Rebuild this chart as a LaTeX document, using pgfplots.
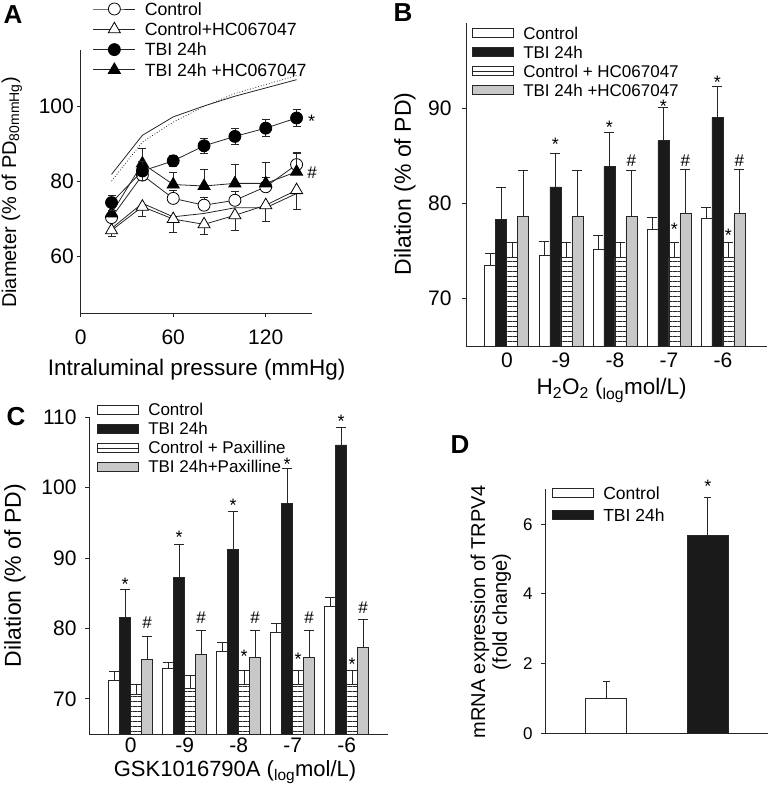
\documentclass[border=0pt]{standalone}
\usepackage{fontspec}
\setmainfont{Liberation Sans}
\usepackage{pgfplots}
\pgfplotsset{compat=1.18}
\usetikzlibrary{patterns.meta}

\newcommand{\fsz}[1]{\fontsize{#1bp}{#1bp}\selectfont}
\definecolor{ink}{HTML}{262626}
\definecolor{barblack}{HTML}{1A1A1A}
\definecolor{bargray}{HTML}{C8C8C8}
% legend boxes for the bar panels (box 41bp, text starts 51bp from its left)
\newcommand{\lbox}[1]{\draw[#1,draw=ink,line width=0.7bp] (0bp,-4.5bp) rectangle (41bp,4.5bp); \path (51bp,0bp);}

\pgfplotsset{
  panel/.style={
    scale only axis, anchor=south west,
    axis lines=left, axis line style={-, ink, line width=0.8bp},
    tick align=outside, major tick length=4bp, tick style={ink, line width=0.8bp},
    /pgf/number format/assume math mode=true,
    clip mode=individual, legend cell align=left,
  },
  barleg/.style={legend style={draw=none, fill=none, inner sep=0pt, outer sep=0pt,
    row sep=0pt, column sep=0pt, anchor=north west, font=\fsz{17},
    nodes={inner sep=0pt, text height=15.6bp, text depth=3.4bp}}},
  ctl/.style={fill=white, draw=ink, line width=0.7bp},
  tbi/.style={fill=barblack, draw=ink, line width=0.7bp},
  stp/.style={fill=white, draw=ink, line width=0.7bp,
    postaction={pattern color=ink, pattern={Lines[angle=0,distance=5bp,line width=0.6bp]}}},
  gry/.style={fill=bargray, draw=ink, line width=0.7bp},
  errb/.style={/pgfplots/error bars/y dir=plus, /pgfplots/error bars/y explicit,
    /pgfplots/error bars/error bar style={line width=0.8bp, ink},
    /pgfplots/error bars/error mark options={rotate=90, mark size=5bp, line width=0.8bp, ink}},
  errA/.style={/pgfplots/error bars/y dir=#1, /pgfplots/error bars/y explicit,
    /pgfplots/error bars/error bar style={line width=0.8bp, ink},
    /pgfplots/error bars/error mark options={rotate=90, mark size=4bp, line width=0.8bp, ink}},
  lineA/.style={ink, line width=0.8bp},
}
\tikzset{
  ast/.style={font=\fsz{18}, inner sep=0pt, anchor=center, yshift=-3.5bp},
  hsh/.style={font=\fsz{17}, inner sep=0pt, anchor=center},
}

\begin{document}
\begin{tikzpicture}
\useasboundingbox (0,0) rectangle (771bp,-791bp);

%% ---------- A ----------
\begin{axis}[panel, at={(80.7bp,-313bp)}, width=231.3bp, height=263bp,
  xmin=0, xmax=150, ymin=45, ymax=115, xtick={0,60,120}, ytick={60,80,100},
  xticklabel style={font=\fsz{21}, inner sep=0pt, anchor=north, yshift=-12.5bp},
  yticklabel style={font=\fsz{21}, inner sep=0pt, anchor=east, xshift=-2.7bp},
  xlabel={Intraluminal pressure (mmHg)},
  ylabel={Diameter (\% of PD\textsubscript{80mmHg})},
  xlabel style={font=\fsz{22.5}, at={(axis description cs:0.5015,-0.2376)}, anchor=base},
  ylabel style={font=\fsz{20}, at={(axis description cs:-0.298,0.458)}, anchor=center},
  legend image code/.code={\draw[mark repeat=2,mark phase=2,#1] plot coordinates {(0bp,0bp) (21bp,0bp) (42bp,0bp)}; \path (51bp,0bp);},
  legend style={draw=none, fill=none, inner sep=0pt, outer sep=0pt, row sep=0pt, column sep=0pt,
    at={(axis description cs:0.053,1.1945)}, anchor=north west, font=\fsz{17.7},
    nodes={inner sep=0pt, text height=16.5bp, text depth=3.8bp}},
]
\addlegendimage{lineA, mark=*, mark size=6bp, mark options={draw=black, fill=white, line width=0.8bp}}
\addlegendentry{Control}
\addlegendimage{lineA, mark=triangle*, mark size=7bp, mark options={draw=black, fill=white, line width=0.8bp}}
\addlegendentry{Control+HC067047}
\addlegendimage{lineA, mark=*, mark size=6bp, mark options={draw=black, fill=black}}
\addlegendentry{TBI 24h}
\addlegendimage{lineA, mark=triangle*, mark size=7bp, mark options={draw=black, fill=black}}
\addlegendentry{TBI 24h +HC067047}

% reference curves
\addplot[lineA, forget plot] coordinates {(20,81.9) (40,92.3) (60,97.2) (80,100.1) (100,102.7) (120,104.9) (140,107.1)};
\addplot[lineA, dotted, forget plot] coordinates {(20,80.1) (40,90.5) (60,95.8) (80,100) (100,103.4) (120,105.8) (140,108.2)};
\addplot[lineA, forget plot] coordinates {(20,67.5) (40,74.2) (60,70.6) (80,71.5) (100,73) (120,73) (140,76.8)};

% Control+HC067047
\addplot[lineA, mark=triangle*, mark size=7bp, mark options={draw=black, fill=white, line width=0.8bp}, forget plot, errA=minus]
  coordinates {(20,67) +- (0,1.5) (40,73.3) +- (0,2.7) (60,70) +- (0,3.6) (80,68.6) +- (0,2.7)
               (100,71) +- (0,4) (120,73.7) +- (0,4.2) (140,77.7) +- (0,5)};
% Control
\addplot[lineA, mark=*, mark size=6bp, mark options={draw=black, fill=white, line width=0.8bp}, forget plot, errA=plus]
  coordinates {(20,70.4) +- (0,1.5) (40,81.7) +- (0,2) (60,75.5) +- (0,2.2) (80,73.7) +- (0,2)
               (100,75) +- (0,2.3) (120,78.6) +- (0,2.5) (140,84.5) +- (0,3.1)};
% TBI 24h +HC067047
\addplot[lineA, mark=triangle*, mark size=7bp, mark options={draw=black, fill=black}, forget plot, errA=plus]
  coordinates {(20,71.5) +- (0,2) (40,84.8) +- (0,4) (60,79.2) +- (0,3.2) (80,78.8) +- (0,4.5)
               (100,79.5) +- (0,5.1) (120,79.5) +- (0,5.7) (140,82.6) +- (0,5.1)};
% TBI 24h
\addplot[lineA, mark=*, mark size=6bp, mark options={draw=black, fill=black}, forget plot, errA=both]
  coordinates {(20,74.4) +- (0,2) (40,82.8) +- (0,2.5) (60,85.5) +- (0,1.5) (80,89.5) +- (0,1.9)
               (100,92) +- (0,2.2) (120,94.2) +- (0,2.3) (140,96.9) +- (0,2.3)};

\node[ast] at (axis cs:149.8,96.9) {*};
\node[hsh] at (axis cs:150,82.3) {\#};
\end{axis}

%% ---------- B ----------
\begin{axis}[panel, barleg, ybar, bar width=11bp, at={(466bp,-346bp)}, width=300.7bp, height=322.7bp,
  xmin=-0.756, xmax=4.81, ymin=65, ymax=99,
  xtick={0,1,2,3,4}, xticklabels={0,-9,-8,-7,-6}, ytick={70,80,90},
  major x tick style={draw=none},
  xticklabel style={font=\fsz{21}, inner sep=0pt, anchor=north, yshift=-2.5bp},
  yticklabel style={font=\fsz{21}, inner sep=0pt, anchor=east, xshift=-10.3bp},
  xlabel={H\textsubscript{2}O\textsubscript{2} (\textsubscript{log}mol/L)},
  ylabel={Dilation (\% of PD)},
  xlabel style={font=\fsz{22.5}, at={(axis description cs:0.4845,-0.1518)}, anchor=base},
  ylabel style={font=\fsz{23}, at={(axis description cs:-0.203,0.502)}, anchor=center},
  legend style={at={(axis description cs:0.019,0.9985)}},
]
\addlegendimage{legend image code/.code={\lbox{fill=white}}}
\addlegendentry{Control}
\addlegendimage{legend image code/.code={\lbox{fill=barblack}}}
\addlegendentry{TBI 24h}
\addlegendimage{legend image code/.code={\lbox{fill=white}\draw[ink,line width=0.6bp] (0bp,0bp) -- (41bp,0bp);}}
\addlegendentry{Control + HC067047}
\addlegendimage{legend image code/.code={\lbox{fill=bargray}}}
\addlegendentry{TBI 24h +HC067047}

\addplot[ctl, bar shift=-16.5bp, forget plot, errb] coordinates
  {(0,73.45) +- (0,1.27) (1,74.5) +- (0,1.55) (2,75.2) +- (0,1.5) (3,77.3) +- (0,1.25) (4,78.5) +- (0,1.15)};
\addplot[tbi, bar shift=-5.5bp, forget plot, errb] coordinates
  {(0,78.3) +- (0,3.4) (1,81.76) +- (0,3.54) (2,83.9) +- (0,3.6) (3,86.65) +- (0,3.45) (4,89.05) +- (0,3.35)};
\addplot[stp, bar shift=5.5bp, forget plot, errb] coordinates
  {(0,74.3) +- (0,1.6) (1,74.3) +- (0,1.6) (2,74.3) +- (0,1.6) (3,74.3) +- (0,1.6) (4,74.3) +- (0,1.6)};
\addplot[gry, bar shift=16.5bp, forget plot, errb] coordinates
  {(0,78.66) +- (0,4.84) (1,78.66) +- (0,4.84) (2,78.66) +- (0,4.84) (3,78.94) +- (0,4.66) (4,78.94) +- (0,4.66)};

\node[ast, xshift=-5.5bp] at (axis cs:1,86.58) {*};
\node[ast, xshift=-5.5bp] at (axis cs:2,88.45) {*};
\node[ast, xshift=-5.5bp] at (axis cs:3,90.63) {*};
\node[ast, xshift=-5.5bp] at (axis cs:4,93.2) {*};
\node[hsh, xshift=16.5bp] at (axis cs:2,84.54) {\#};
\node[hsh, xshift=16.5bp] at (axis cs:3,84.54) {\#};
\node[hsh, xshift=16.5bp] at (axis cs:4,84.54) {\#};
\node[ast, xshift=5.5bp] at (axis cs:3,77.68) {*};
\node[ast, xshift=5.5bp] at (axis cs:4,77.08) {*};
\end{axis}

%% ---------- C ----------
\begin{axis}[panel, barleg, ybar, bar width=11bp, at={(89.3bp,-734bp)}, width=298.7bp, height=316.7bp,
  xmin=-0.767, xmax=4.765, ymin=65, ymax=110,
  xtick={0,1,2,3,4}, xticklabels={0,-9,-8,-7,-6}, ytick={70,80,90,100,110},
  major x tick style={draw=none},
  xticklabel style={font=\fsz{21}, inner sep=0pt, anchor=north, yshift=0bp},
  yticklabel style={font=\fsz{21}, inner sep=0pt, anchor=east, xshift=-8.6bp},
  xlabel={GSK1016790A (\textsubscript{log}mol/L)},
  ylabel={Dilation (\% of PD)},
  xlabel style={font=\fsz{22}, inner sep=0pt, at={(axis description cs:0.488,-0.1326)}, anchor=base},
  ylabel style={font=\fsz{23}, at={(axis description cs:-0.249,0.5)}, anchor=center},
  legend style={at={(axis description cs:0.0248,1.0534)}},
]
\addlegendimage{legend image code/.code={\lbox{fill=white}}}
\addlegendentry{Control}
\addlegendimage{legend image code/.code={\lbox{fill=barblack}}}
\addlegendentry{TBI 24h}
\addlegendimage{legend image code/.code={\lbox{fill=white}\draw[ink,line width=0.6bp] (0bp,0bp) -- (41bp,0bp);}}
\addlegendentry{Control + Paxilline}
\addlegendimage{legend image code/.code={\lbox{fill=bargray}}}
\addlegendentry{TBI 24h+Paxilline}

\addplot[ctl, bar shift=-16.5bp, forget plot, errb] coordinates
  {(0,72.6) +- (0,1.3) (1,74.4) +- (0,0.8) (2,76.8) +- (0,1.2) (3,79.47) +- (0,1.28) (4,83.1) +- (0,1.3)};
\addplot[tbi, bar shift=-5.5bp, forget plot, errb] coordinates
  {(0,81.6) +- (0,4.0) (1,87.2) +- (0,4.8) (2,91.2) +- (0,5.4) (3,97.8) +- (0,4.96) (4,106.07) +- (0,2.43)};
\addplot[stp, bar shift=5.5bp, forget plot, errb] coordinates
  {(0,70.7) +- (0,1.4) (1,71.5) +- (0,1.8) (2,72.1) +- (0,1.9) (3,72.1) +- (0,1.9) (4,72.1) +- (0,1.9)};
\addplot[gry, bar shift=16.5bp, forget plot, errb] coordinates
  {(0,75.6) +- (0,3.3) (1,76.25) +- (0,3.45) (2,75.9) +- (0,3.8) (3,75.9) +- (0,3.8) (4,77.3) +- (0,4.0)};

\node[ast, xshift=-5.5bp] at (axis cs:0,86.8) {*};
\node[ast, xshift=-5.5bp] at (axis cs:1,93.43) {*};
\node[ast, xshift=-5.5bp] at (axis cs:2,98.02) {*};
\node[ast, xshift=-5.5bp] at (axis cs:3,103.85) {*};
\node[ast, xshift=-5.5bp] at (axis cs:4,109.86) {*};
\node[hsh, xshift=16.5bp] at (axis cs:0,80.75) {\#};
\node[hsh, xshift=16.5bp] at (axis cs:1,81.46) {\#};
\node[hsh, xshift=16.5bp] at (axis cs:2,81.46) {\#};
\node[hsh, xshift=16.5bp] at (axis cs:3,81.46) {\#};
\node[hsh, xshift=16.5bp] at (axis cs:4,82.88) {\#};
\node[ast, xshift=5.5bp] at (axis cs:2,76.58) {*};
\node[ast, xshift=5.5bp] at (axis cs:3,76.15) {*};
\node[ast, xshift=5.5bp] at (axis cs:4,75.4) {*};
\end{axis}

%% ---------- D ----------
\begin{axis}[panel, barleg, ybar, bar width=41bp, at={(545bp,-733.3bp)}, width=223.3bp, height=244bp,
  xmin=0.398, xmax=2.595, ymin=0, ymax=7, xtick=\empty, ytick={0,2,4,6},
  yticklabel style={font=\fsz{17}, inner sep=0pt, anchor=east, xshift=-8.3bp},
  ylabel={mRNA expression of TRPV4\\(fold change)},
  ylabel style={font=\fontsize{20bp}{21.7bp}\selectfont, align=center,
    at={(axis description cs:-0.243,0.498)}, anchor=center},
  legend style={at={(axis description cs:0.030,1.0318)}, font=\fsz{17.5},
    nodes={inner sep=0pt, text height=17.45bp, text depth=4.85bp}},
]
\addlegendimage{legend image code/.code={\lbox{fill=white}}}
\addlegendentry{Control}
\addlegendimage{legend image code/.code={\lbox{fill=barblack}}}
\addlegendentry{TBI 24h}

\addplot[ctl, bar shift=0bp, forget plot, errb, /pgfplots/error bars/error mark options={rotate=90, mark size=3.5bp, line width=0.8bp, ink}]
  coordinates {(1,1.0) +- (0,0.49)};
\addplot[tbi, bar shift=0bp, forget plot, errb, /pgfplots/error bars/error mark options={rotate=90, mark size=3.5bp, line width=0.8bp, ink}]
  coordinates {(2,5.67) +- (0,1.11)};

\node[ast] at (axis cs:2,7.18) {*};
\end{axis}

%% panel letters
\node[font=\bfseries\fsz{26}] at (13bp,-15bp) {A};
\node[font=\bfseries\fsz{26}] at (403bp,-13bp) {B};
\node[font=\bfseries\fsz{26}] at (16bp,-417bp) {C};
\node[font=\bfseries\fsz{26}] at (460bp,-445bp) {D};
\end{tikzpicture}
\end{document}
